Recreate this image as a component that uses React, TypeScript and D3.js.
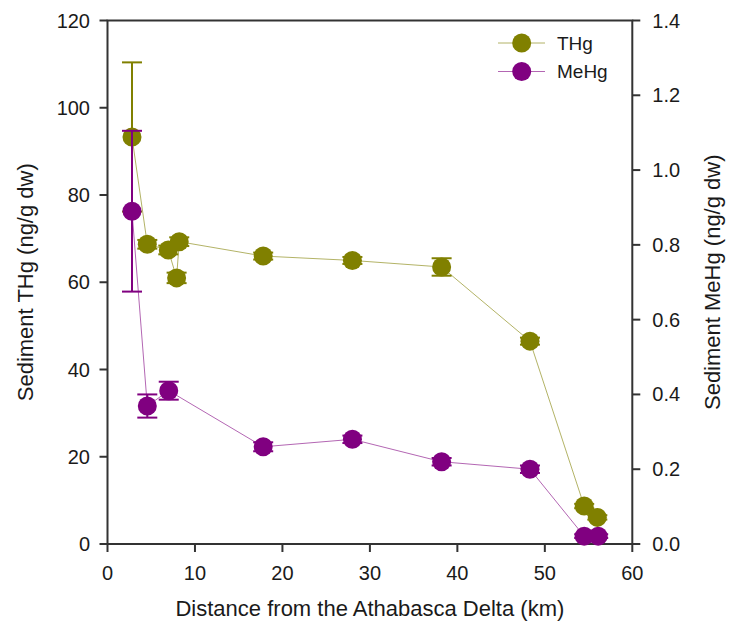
import React from "react";
import * as d3 from "d3";

const thgDistance = [2.8, 4.55, 6.95, 7.9, 8.2, 17.8, 28.0, 38.2, 48.3, 54.5, 56.0];
const thgValue = [93.3, 68.7, 67.4, 61.0, 69.3, 66.0, 65.0, 63.5, 46.5, 8.7, 6.1];
const thgError = [17.1, 1.0, 1.0, 1.2, 1.0, 0.8, 0.8, 2.0, 0.8, 0.5, 0.5];

const mehgDistance = [2.8, 4.55, 7.0, 17.8, 28.0, 38.2, 48.3, 54.5, 56.1];
const mehgValue = [0.89, 0.369, 0.41, 0.26, 0.28, 0.22, 0.2, 0.021, 0.021];
const mehgError = [0.215, 0.031, 0.024, 0.012, 0.01, 0.01, 0.01, 0.005, 0.005];

const xTicks = [0, 10, 20, 30, 40, 50, 60];
const leftTicks = [0, 20, 40, 60, 80, 100, 120];
const rightTicks = [0, 0.2, 0.4, 0.6, 0.8, 1.0, 1.2, 1.4];

const seriesNames = ["THg", "MeHg"];

const W = 738;
const H = 643;
const M = { left: 107.5, right: 632.3, top: 20.5, bottom: 544 };
const OLIVE = "#808000";
const PURPLE = "#800080";
const AXIS = "#333333";
const FONT = "Arial, 'Liberation Sans', sans-serif";

export default function App() {
  const x = d3.scaleLinear().domain([0, 60]).range([M.left, M.right]);
  const yL = d3.scaleLinear().domain([0, 120]).range([M.bottom, M.top]);
  const yR = d3.scaleLinear().domain([0, 1.4]).range([M.bottom, M.top]);
  const r = 9.5;
  const cap = 10;

  const thgPts = thgDistance.map((d, i) => [d, thgValue[i], thgError[i]]);
  const mehgPts = mehgDistance.map((d, i) => [d, mehgValue[i], mehgError[i]]);

  const thgLine = d3.line<number[]>().x((p) => x(p[0])).y((p) => yL(p[1]))(thgPts) || "";
  const mehgLine = d3.line<number[]>().x((p) => x(p[0])).y((p) => yR(p[1]))(mehgPts) || "";

  const errBars = (pts: number[][], y: d3.ScaleLinear<number, number>, color: string, key: string) =>
    pts.map((p, i) => {
      const cx = x(p[0]);
      const y1 = y(p[1] + p[2]);
      const y0 = y(p[1] - p[2]);
      return (
        <g key={key + i} stroke={color} strokeWidth={2}>
          <line x1={cx} x2={cx} y1={y1} y2={y0} />
          <line x1={cx - cap} x2={cx + cap} y1={y1} y2={y1} />
          <line x1={cx - cap} x2={cx + cap} y1={y0} y2={y0} />
        </g>
      );
    });

  return (
    <svg width={W} height={H} style={{ position: "absolute", left: 0, top: 0, background: "#fff" }} fontFamily={FONT}>
      <rect x={0} y={0} width={W} height={H} fill="#fff" />
      {/* frame */}
      <rect x={M.left} y={M.top} width={M.right - M.left} height={M.bottom - M.top} fill="none" stroke={AXIS} strokeWidth={2} />

      {/* x ticks */}
      {xTicks.map((t) => (
        <g key={"x" + t}>
          <line x1={x(t)} x2={x(t)} y1={M.bottom} y2={M.bottom + 8} stroke={AXIS} strokeWidth={2} />
          <text x={x(t)} y={M.bottom + 36} textAnchor="middle" fontSize={20} fill="#1a1a1a">{t}</text>
        </g>
      ))}
      {/* left ticks */}
      {leftTicks.map((t) => (
        <g key={"l" + t}>
          <line x1={M.left - 8} x2={M.left} y1={yL(t)} y2={yL(t)} stroke={AXIS} strokeWidth={2} />
          <text x={90} y={yL(t)} dy="0.35em" textAnchor="end" fontSize={20} fill="#1a1a1a">{t}</text>
        </g>
      ))}
      {/* right ticks */}
      {rightTicks.map((t) => (
        <g key={"r" + t}>
          <line x1={M.right} x2={M.right + 8} y1={yR(t)} y2={yR(t)} stroke={AXIS} strokeWidth={2} />
          <text x={M.right + 20} y={yR(t)} dy="0.35em" textAnchor="start" fontSize={20} fill="#1a1a1a">{d3.format(".1f")(t)}</text>
        </g>
      ))}

      {/* axis titles */}
      <text x={(M.left + M.right) / 2} y={616} textAnchor="middle" fontSize={22} fill="#1a1a1a">
        Distance from the Athabasca Delta (km)
      </text>
      <text transform={`translate(33,${(M.top + M.bottom) / 2}) rotate(-90)`} textAnchor="middle" fontSize={22} fill="#1a1a1a">
        Sediment THg (ng/g dw)
      </text>
      <text transform={`translate(720,${(M.top + M.bottom) / 2}) rotate(-90)`} textAnchor="middle" fontSize={22} fill="#1a1a1a">
        Sediment MeHg (ng/g dw)
      </text>

      {/* THg series */}
      <path d={thgLine} fill="none" stroke={OLIVE} strokeOpacity={0.6} strokeWidth={1} />
      {errBars(thgPts, yL, OLIVE, "te")}
      {thgPts.map((p, i) => (
        <circle key={"tc" + i} cx={x(p[0])} cy={yL(p[1])} r={r} fill={OLIVE} />
      ))}

      {/* MeHg series */}
      <path d={mehgLine} fill="none" stroke={PURPLE} strokeOpacity={0.6} strokeWidth={1} />
      {errBars(mehgPts, yR, PURPLE, "me")}
      {mehgPts.map((p, i) => (
        <circle key={"mc" + i} cx={x(p[0])} cy={yR(p[1])} r={r} fill={PURPLE} />
      ))}

      {/* legend */}
      {seriesNames.map((name, i) => {
        const ly = 43 + i * 28.5;
        const color = i === 0 ? OLIVE : PURPLE;
        return (
          <g key={"lg" + i}>
            <line x1={498} x2={545} y1={ly} y2={ly} stroke={color} strokeOpacity={0.6} strokeWidth={1} />
            <circle cx={521.7} cy={ly} r={r} fill={color} />
            <text x={557} y={ly} dy="0.35em" fontSize={19} fill="#1a1a1a">{name}</text>
          </g>
        );
      })}
    </svg>
  );
}
